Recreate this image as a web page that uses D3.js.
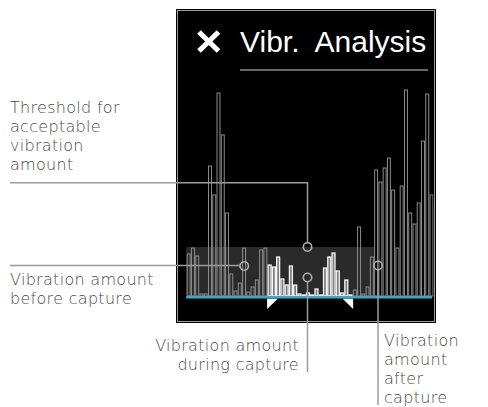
<!DOCTYPE html>
<html><head><meta charset="utf-8">
<script src="https://cdn.jsdelivr.net/npm/d3@7/dist/d3.min.js"></script>
<style>
html,body{margin:0;padding:0;background:#fff;}
svg{display:block;}
.lbl{font-family:"DejaVu Sans","Open Sans",sans-serif;font-weight:200;font-size:16px;fill:#4a4a4a;letter-spacing:0.3px;}
</style></head>
<body>
<script>
// ---- data ----
const barIndex = d3.range(59);
const barValues = [42,48,40,2,2,130,101,203,161,83,22,5,13,48,4,9,16,46,48,
  31,29,39,17,11,30,11,2,1,3,1,7,1,28,39,43,25,3,16,1,
  6,69,2,9,39,126,114,128,138,106,48,110,206,83,72,93,155,202,101,89];
const captureStart = 19, captureEnd = 38;   // indices of bars during capture
const thresholdValue = 49;
const thresholdEnd = 43;                      // band covers bars 0..thresholdEnd
const titleText = "Vibr.  Analysis";
const labels = {
  threshold: ["Threshold for","acceptable","vibration","amount"],
  before: ["Vibration amount","before capture"],
  during: ["Vibration amount","during capture"],
  after: ["Vibration","amount","after","capture"]
};

const W = 488, H = 407;
const svg = d3.select("body").append("svg").attr("width", W).attr("height", H);

// panel
const panel = {x:176.5, y:9.5, w:259, h:313};
svg.append("rect").attr("x",panel.x).attr("y",panel.y).attr("width",panel.w).attr("height",panel.h)
  .attr("fill","#000").attr("stroke","#000").attr("stroke-width",1);
svg.append("rect").attr("x",panel.x+1).attr("y",panel.y+1).attr("width",panel.w-2).attr("height",panel.h-2)
  .attr("fill","none").attr("stroke","#9a9a9a").attr("stroke-width",1);

svg.append("clipPath").attr("id","pc").append("rect")
  .attr("x",panel.x+2).attr("y",panel.y+2).attr("width",panel.w-4).attr("height",panel.h-4);

// scales
const x = d3.scaleBand().domain(barIndex).range([186.7, 186.7 + 59*4.26]).padding(0);
const y = d3.scaleLinear().domain([0, 210]).range([296, 86]);
const bw = x.bandwidth();

const g = svg.append("g").attr("clip-path","url(#pc)");

// threshold band
g.append("rect").attr("x", x(0)-0.5).attr("y", y(thresholdValue))
  .attr("width", x(thresholdEnd) + bw - x(0) + 0.5).attr("height", y(0) - y(thresholdValue))
  .attr("fill","#2a2a2a");

// bars
const data = barIndex.map(i => ({i, v: barValues[i], cap: i>=captureStart && i<=captureEnd}));
g.selectAll("rect.bar").data(data).join("rect").attr("class","bar")
  .attr("x", d => x(d.i) + 0.5)
  .attr("y", d => y(d.v))
  .attr("width", bw - 1.3)
  .attr("height", d => y(0) - y(d.v))
  .attr("fill", d => d.cap ? "#7a7a7a" : "none")
  .attr("stroke", d => d.cap ? "#f4f4f4" : "#8c8c8c")
  .attr("stroke-width", d => d.cap ? 1.3 : 1);

// baseline
g.append("line").attr("x1", x(0)-0.5).attr("x2", 432).attr("y1", 297.3).attr("y2", 297.3)
  .attr("stroke","#3ea6d2").attr("stroke-width",2.6);

// capture triangles
const xs = x(captureStart), xe = x(captureEnd) + bw;
svg.append("path").attr("d", `M${xs-0.5},298.7 L${xs+10},298.7 L${xs-0.5},309 Z`).attr("fill","#fff");
svg.append("path").attr("d", `M${xe+0.3},298.7 L${xe-10.2},298.7 L${xe+0.3},309 Z`).attr("fill","#fff");

// title
svg.append("path").attr("d","M199,32 L218.5,51 M218.5,32 L199,51")
  .attr("stroke","#fff").attr("stroke-width",5.2);
svg.append("text").attr("x",240).attr("y",51.5).text(titleText)
  .attr("font-family","'Liberation Sans',Arial,sans-serif").attr("font-size",30)
  .attr("fill","#fff").style("white-space","pre").attr("xml:space","preserve");
svg.append("line").attr("x1",240).attr("x2",428).attr("y1",70).attr("y2",70)
  .attr("stroke","#8a8a8a").attr("stroke-width",1.5);

// annotations
const lc = "#9b9b9b";
function leader(pts){
  svg.append("path").attr("d", d3.line()(pts)).attr("fill","none").attr("stroke",lc).attr("stroke-width",1.5);
}
function dot(cx, cy){
  svg.append("circle").attr("cx",cx).attr("cy",cy).attr("r",4.2).attr("fill","none")
    .attr("stroke","#b0b0b0").attr("stroke-width",1.6);
}
// threshold
const tx = 307.5, ty = y(thresholdValue);
leader([[10,182.7],[tx,182.7],[tx,ty-4.2]]); dot(tx, ty);
// before
const bx = x(13) + bw/2, byy = 266;
leader([[10,265.5],[bx-4.2,265.5]]); dot(bx, byy);
// during
const dx = 307.5, dy = 277.5;
leader([[dx,dy+4.2],[dx,372]]); dot(dx, dy);
// after
const ax = 378, ay = 265.5;
leader([[ax,ay+4.2],[ax,405]]); dot(ax, ay);

function textBlock(lines, xx, y0, dy, anchor){
  lines.forEach((s,k)=> svg.append("text").attr("class","lbl").attr("text-anchor",anchor)
    .attr("x",xx).attr("y",y0+k*dy).text(s));
}
textBlock(labels.threshold, 10, 112.5, 19, "start");
textBlock(labels.before, 10, 284.5, 19, "start");
textBlock(labels.during, 299, 351, 19, "end");
textBlock(labels.after, 384, 346, 19, "start");
</script>
</body></html>
